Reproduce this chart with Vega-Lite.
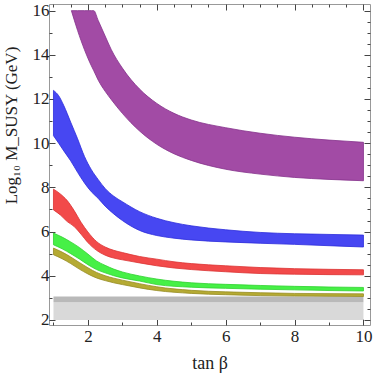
{
  "$schema": "https://vega.github.io/schema/vega-lite/v6.json",
  "width": 321,
  "height": 321,
  "autosize": "none",
  "padding": {"left": 49, "top": 4, "right": 4, "bottom": 50},
  "background": "white",
  "config": {
    "view": {"stroke": "#999999", "strokeWidth": 1},
    "axis": {
      "domain": false,
      "grid": false,
      "tickColor": "#444444",
      "tickWidth": 1,
      "labelFont": "Liberation Serif",
      "labelFontSize": 17,
      "labelColor": "#222222",
      "titleFont": "Liberation Serif",
      "titleFontSize": 18,
      "titleFontWeight": "normal",
      "titleColor": "#222222"
    }
  },
  "datasets": {
    "bands": [
      {"band": "a", "x": 1.52, "lo": 16, "hi": 16},
      {"band": "a", "x": 1.7, "lo": 15.1, "hi": 16},
      {"band": "a", "x": 1.9, "lo": 14.23, "hi": 16},
      {"band": "a", "x": 2.1, "lo": 13.5, "hi": 16},
      {"band": "a", "x": 2.17, "lo": 13.28, "hi": 16},
      {"band": "a", "x": 2.3, "lo": 12.85, "hi": 15.55},
      {"band": "a", "x": 2.5, "lo": 12.35, "hi": 14.85},
      {"band": "a", "x": 2.68, "lo": 11.97, "hi": 14.23},
      {"band": "a", "x": 3.0, "lo": 11.35, "hi": 13.4},
      {"band": "a", "x": 3.5, "lo": 10.55, "hi": 12.45},
      {"band": "a", "x": 4.0, "lo": 9.95, "hi": 11.8},
      {"band": "a", "x": 4.5, "lo": 9.52, "hi": 11.35},
      {"band": "a", "x": 5.0, "lo": 9.22, "hi": 11.05},
      {"band": "a", "x": 6.0, "lo": 8.82, "hi": 10.7},
      {"band": "a", "x": 7.0, "lo": 8.6, "hi": 10.45},
      {"band": "a", "x": 8.0, "lo": 8.45, "hi": 10.27},
      {"band": "a", "x": 9.0, "lo": 8.36, "hi": 10.14},
      {"band": "a", "x": 10.0, "lo": 8.3, "hi": 10.04},

      {"band": "b", "x": 1.0, "lo": 10.34, "hi": 12.39},
      {"band": "b", "x": 1.15, "lo": 10.0, "hi": 12.15},
      {"band": "b", "x": 1.3, "lo": 9.65, "hi": 11.7},
      {"band": "b", "x": 1.5, "lo": 9.2, "hi": 10.95},
      {"band": "b", "x": 1.7, "lo": 8.68, "hi": 10.2},
      {"band": "b", "x": 1.9, "lo": 8.2, "hi": 9.4},
      {"band": "b", "x": 2.1, "lo": 7.8, "hi": 8.8},
      {"band": "b", "x": 2.3, "lo": 7.5, "hi": 8.35},
      {"band": "b", "x": 2.5, "lo": 7.15, "hi": 7.95},
      {"band": "b", "x": 2.75, "lo": 6.8, "hi": 7.6},
      {"band": "b", "x": 3.0, "lo": 6.5, "hi": 7.35},
      {"band": "b", "x": 3.5, "lo": 6.05, "hi": 6.9},
      {"band": "b", "x": 4.0, "lo": 5.82, "hi": 6.6},
      {"band": "b", "x": 4.5, "lo": 5.7, "hi": 6.4},
      {"band": "b", "x": 5.0, "lo": 5.62, "hi": 6.26},
      {"band": "b", "x": 6.0, "lo": 5.53, "hi": 6.08},
      {"band": "b", "x": 7.0, "lo": 5.47, "hi": 5.96},
      {"band": "b", "x": 8.0, "lo": 5.42, "hi": 5.9},
      {"band": "b", "x": 9.0, "lo": 5.36, "hi": 5.87},
      {"band": "b", "x": 10.0, "lo": 5.3, "hi": 5.84},

      {"band": "c", "x": 1.0, "lo": 6.98, "hi": 7.92},
      {"band": "c", "x": 1.2, "lo": 6.75, "hi": 7.7},
      {"band": "c", "x": 1.4, "lo": 6.45, "hi": 7.4},
      {"band": "c", "x": 1.6, "lo": 6.23, "hi": 6.95},
      {"band": "c", "x": 1.8, "lo": 5.88, "hi": 6.42},
      {"band": "c", "x": 2.0, "lo": 5.5, "hi": 5.98},
      {"band": "c", "x": 2.25, "lo": 5.15, "hi": 5.55},
      {"band": "c", "x": 2.5, "lo": 4.93, "hi": 5.3},
      {"band": "c", "x": 2.75, "lo": 4.8, "hi": 5.15},
      {"band": "c", "x": 3.0, "lo": 4.72, "hi": 5.05},
      {"band": "c", "x": 3.5, "lo": 4.58, "hi": 4.87},
      {"band": "c", "x": 4.0, "lo": 4.45, "hi": 4.75},
      {"band": "c", "x": 4.5, "lo": 4.35, "hi": 4.63},
      {"band": "c", "x": 5.0, "lo": 4.28, "hi": 4.55},
      {"band": "c", "x": 6.0, "lo": 4.18, "hi": 4.45},
      {"band": "c", "x": 7.0, "lo": 4.1, "hi": 4.37},
      {"band": "c", "x": 8.0, "lo": 4.07, "hi": 4.32},
      {"band": "c", "x": 9.0, "lo": 4.05, "hi": 4.29},
      {"band": "c", "x": 10.0, "lo": 4.04, "hi": 4.27},

      {"band": "d", "x": 1.0, "lo": 5.4, "hi": 5.93},
      {"band": "d", "x": 1.25, "lo": 5.22, "hi": 5.75},
      {"band": "d", "x": 1.5, "lo": 5.0, "hi": 5.53},
      {"band": "d", "x": 1.75, "lo": 4.76, "hi": 5.28},
      {"band": "d", "x": 2.0, "lo": 4.5, "hi": 4.98},
      {"band": "d", "x": 2.25, "lo": 4.28, "hi": 4.67},
      {"band": "d", "x": 2.5, "lo": 4.13, "hi": 4.47},
      {"band": "d", "x": 2.75, "lo": 4.0, "hi": 4.3},
      {"band": "d", "x": 3.0, "lo": 3.9, "hi": 4.17},
      {"band": "d", "x": 3.5, "lo": 3.76, "hi": 3.99},
      {"band": "d", "x": 4.0, "lo": 3.6, "hi": 3.85},
      {"band": "d", "x": 5.0, "lo": 3.48, "hi": 3.68},
      {"band": "d", "x": 6.0, "lo": 3.43, "hi": 3.61},
      {"band": "d", "x": 7.0, "lo": 3.39, "hi": 3.56},
      {"band": "d", "x": 8.0, "lo": 3.36, "hi": 3.52},
      {"band": "d", "x": 9.0, "lo": 3.33, "hi": 3.49},
      {"band": "d", "x": 10.0, "lo": 3.31, "hi": 3.47},

      {"band": "e", "x": 1.0, "lo": 4.95, "hi": 5.25},
      {"band": "e", "x": 1.25, "lo": 4.77, "hi": 5.07},
      {"band": "e", "x": 1.5, "lo": 4.55, "hi": 4.85},
      {"band": "e", "x": 1.75, "lo": 4.3, "hi": 4.6},
      {"band": "e", "x": 2.0, "lo": 4.08, "hi": 4.36},
      {"band": "e", "x": 2.25, "lo": 3.9, "hi": 4.15},
      {"band": "e", "x": 2.5, "lo": 3.78, "hi": 4.0},
      {"band": "e", "x": 2.75, "lo": 3.68, "hi": 3.89},
      {"band": "e", "x": 3.0, "lo": 3.6, "hi": 3.8},
      {"band": "e", "x": 3.5, "lo": 3.45, "hi": 3.64},
      {"band": "e", "x": 4.0, "lo": 3.33, "hi": 3.5},
      {"band": "e", "x": 5.0, "lo": 3.2, "hi": 3.34},
      {"band": "e", "x": 6.0, "lo": 3.14, "hi": 3.27},
      {"band": "e", "x": 7.0, "lo": 3.1, "hi": 3.23},
      {"band": "e", "x": 8.0, "lo": 3.08, "hi": 3.2},
      {"band": "e", "x": 9.0, "lo": 3.07, "hi": 3.19},
      {"band": "e", "x": 10.0, "lo": 3.06, "hi": 3.18}
    ],
    "shade": [
      {"kind": "light", "x1": 1, "x2": 10, "y1": 2.0, "y2": 2.8},
      {"kind": "dark", "x1": 1, "x2": 10, "y1": 2.8, "y2": 3.06}
    ]
  },
  "layer": [
    {
      "data": {"name": "shade"},
      "mark": {"type": "rect"},
      "encoding": {
        "x": {
          "field": "x1", "type": "quantitative",
          "scale": {"domain": [0.87, 10.19], "nice": false, "zero": false},
          "axis": {
            "orient": "bottom",
            "values": [1,1.5,2,2.5,3,3.5,4,4.5,5,5.5,6,6.5,7,7.5,8,8.5,9,9.5,10],
            "format": "d",
            "labelExpr": "datum.value % 2 === 0 ? datum.label : ''",
            "tickSize": {"condition": {"test": "datum.value % 2 === 0", "value": -6}, "value": -3},
            "labelPadding": 9,
            "labelFlush": false,
            "title": "tan β",
            "titlePadding": 10
          }
        },
        "x2": {"field": "x2"},
        "y": {
          "field": "y1", "type": "quantitative",
          "scale": {"domain": [1.77, 16.3], "nice": false, "zero": false},
          "axis": {
            "orient": "left",
            "values": [2,2.5,3,3.5,4,4.5,5,5.5,6,6.5,7,7.5,8,8.5,9,9.5,10,10.5,11,11.5,12,12.5,13,13.5,14,14.5,15,15.5,16],
            "format": "d",
            "labelExpr": "datum.value % 2 === 0 ? datum.label : ''",
            "tickSize": {"condition": {"test": "datum.value % 2 === 0", "value": -6}, "value": -3},
            "labelPadding": 6,
            "labelFlush": false,
            "title": "Log₁₀ M_SUSY (GeV)",
            "titleFontSize": 17,
            "titleX": -29,
            "titleY": 121,
            "titleAngle": -90
          }
        },
        "y2": {"field": "y2"},
        "color": {
          "field": "kind", "type": "nominal",
          "scale": {"domain": ["light", "dark"], "range": ["#D9D9D9", "#B9B9B9"]},
          "legend": null
        }
      }
    },
    {
      "data": {"name": "bands"},
      "mark": {"type": "area", "interpolate": "monotone", "strokeWidth": 0.8, "fillOpacity": 1, "clip": true},
      "encoding": {
        "x": {
          "field": "x", "type": "quantitative",
          "axis": {
            "orient": "top",
            "values": [1,1.5,2,2.5,3,3.5,4,4.5,5,5.5,6,6.5,7,7.5,8,8.5,9,9.5,10],
            "labels": false,
            "tickSize": {"condition": {"test": "datum.value % 2 === 0", "value": -6}, "value": -3},
            "title": null
          }
        },
        "y": {
          "field": "lo", "type": "quantitative",
          "axis": {
            "orient": "right",
            "values": [2,2.5,3,3.5,4,4.5,5,5.5,6,6.5,7,7.5,8,8.5,9,9.5,10,10.5,11,11.5,12,12.5,13,13.5,14,14.5,15,15.5,16],
            "labels": false,
            "tickSize": {"condition": {"test": "datum.value % 2 === 0", "value": -6}, "value": -3},
            "title": null
          }
        },
        "y2": {"field": "hi"},
        "fill": {
          "field": "band", "type": "nominal",
          "scale": {"domain": ["a", "b", "c", "d", "e"], "range": ["#A24BA5", "#4747F2", "#F24A4A", "#46F046", "#B5AA33"]},
          "legend": null
        },
        "stroke": {
          "field": "band", "type": "nominal",
          "scale": {"domain": ["a", "b", "c", "d", "e"], "range": ["#84308A", "#2B2BDA", "#DA3434", "#30D030", "#968C22"]},
          "legend": null
        }
      }
    }
  ],
  "resolve": {"axis": {"x": "independent", "y": "independent"}}
}
